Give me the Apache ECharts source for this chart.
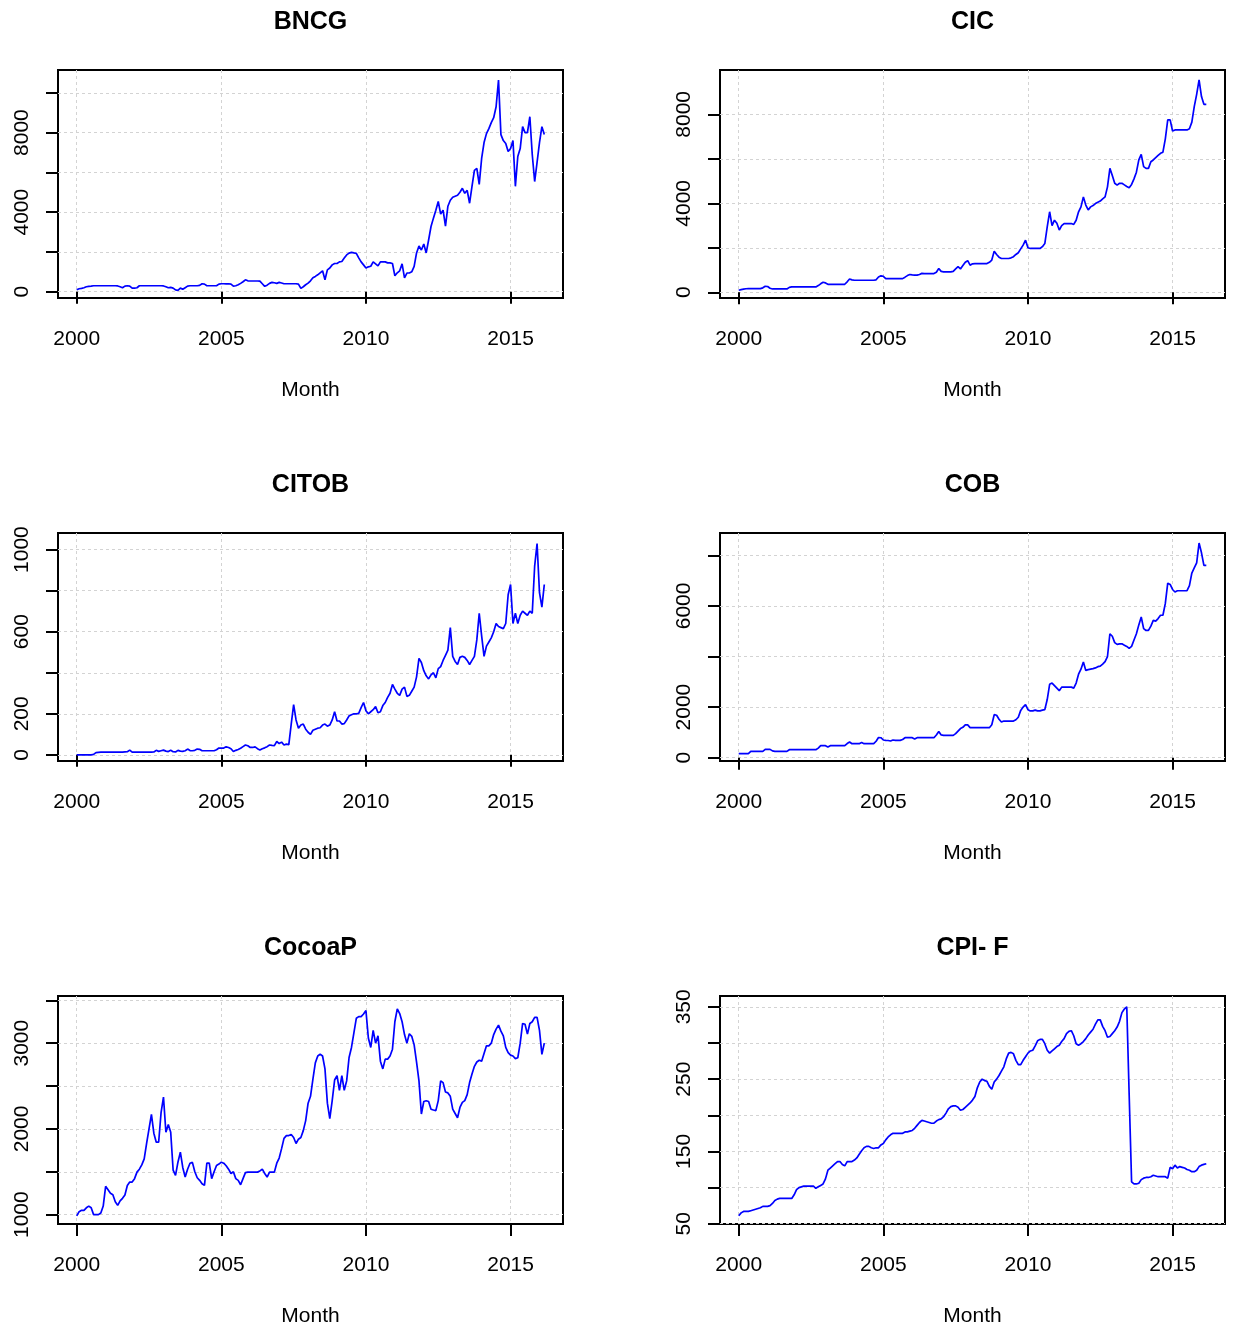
<!DOCTYPE html>
<html><head><meta charset="utf-8">
<script src="https://cdn.jsdelivr.net/npm/echarts@6/dist/echarts.min.js"></script>
<style>html,body{margin:0;padding:0;background:#fff}#c{width:1238px;height:1329px}</style>
</head><body><div id="c"></div>
<script>
// ---- data (monthly, Jan 2000 .. Mar 2016) ----
const START_YEAR = 2000;
const titles = ['BNCG', 'CIC', 'CITOB', 'COB', 'CocoaP', 'CPI- F'];
const xTicks = [2000, 2005, 2010, 2015];

const BNCG = [
  100,150,170,200,250,270,280,300,300,300,300,300,
  300,300,300,300,300,290,250,200,280,300,280,180,
  180,200,300,300,300,300,300,300,300,300,300,300,
  290,250,200,220,180,90,70,180,120,200,280,300,
  300,300,300,320,400,380,300,300,300,300,300,380,
  400,400,390,400,380,280,300,350,420,500,600,550,
  540,540,540,540,530,400,270,330,420,470,450,420,
  470,440,400,400,400,400,400,400,380,170,250,350,
  430,550,700,770,850,950,1050,600,1100,1190,1350,1420,
  1420,1500,1520,1690,1850,1940,1975,1950,1930,1700,1500,1350,
  1190,1250,1280,1500,1400,1300,1500,1500,1500,1450,1450,1420,
  800,950,1050,1400,700,940,940,1000,1270,1950,2300,2100,
  2400,1950,2600,3280,3700,4100,4540,3900,4100,3300,4300,4600,
  4750,4800,4850,5000,5200,4950,5100,4450,5300,6100,6200,5400,
  6700,7500,7950,8200,8500,8750,9300,10640,7900,7600,7450,7050,
  7200,7600,5300,6800,7200,8300,8000,8000,8800,6900,5540,6500,
  7500,8300,7900
];
const CIC = [
  90,120,140,160,165,165,165,165,165,165,200,270,
  260,180,150,150,150,150,150,150,150,220,240,240,
  240,240,240,240,240,240,240,240,240,300,380,450,
  420,360,360,360,360,360,360,360,360,470,600,560,
  540,540,540,540,540,540,540,540,540,560,690,740,
  720,615,615,615,615,615,615,615,615,680,750,800,
  780,770,770,800,850,840,840,840,840,840,900,1070,
  940,920,920,920,920,940,1050,1150,1050,1200,1350,1420,
  1220,1280,1290,1290,1290,1290,1290,1290,1350,1450,1850,1700,
  1580,1520,1520,1520,1520,1550,1600,1700,1780,1950,2120,2340,
  2000,1970,1970,1970,1970,1970,2050,2190,2940,3620,3000,3240,
  3100,2800,3000,3090,3090,3090,3090,3050,3240,3620,3840,4290,
  3920,3700,3840,3900,3990,4050,4100,4200,4290,4740,5570,5250,
  4900,4820,4900,4900,4830,4760,4700,4850,5100,5400,5950,6200,
  5650,5570,5570,5870,5950,6050,6150,6250,6300,6900,7750,7750,
  7250,7300,7300,7300,7300,7300,7300,7350,7650,8350,8900,9550,
  8800,8450,8450
];
const CITOB = [
  0,0,0,0,0,0,0,2,11,12,13,13,
  13,13,13,13,13,13,13,13,14,15,23,13,
  13,13,13,13,13,13,13,13,14,22,17,20,
  23,18,16,22,15,14,22,18,17,20,28,21,
  20,22,28,27,20,20,20,20,20,20,25,33,
  33,33,39,36,30,16,22,26,32,40,48,44,
  36,36,39,30,24,30,34,40,48,46,45,65,
  55,62,48,52,50,150,245,170,130,145,150,125,
  110,100,120,125,130,132,145,150,140,145,170,210,
  165,165,150,152,170,190,195,200,200,202,230,255,
  215,200,210,220,235,205,210,240,255,280,300,343,
  320,300,290,320,330,285,290,310,330,380,470,450,
  410,385,370,390,400,375,420,430,460,485,510,620,
  480,455,440,475,480,475,460,440,460,480,560,690,
  580,480,530,550,570,600,640,625,620,615,640,780,
  830,640,690,640,680,700,690,680,700,690,920,1030,
  790,720,830
];
const COB = [
  160,160,160,160,160,250,250,250,250,250,250,330,
  330,330,270,250,250,250,250,250,250,316,316,316,
  316,316,316,316,316,316,316,316,316,380,474,474,
  474,420,474,474,474,474,474,474,474,560,620,553,
  553,553,553,600,553,553,553,553,553,650,800,790,
  700,685,680,660,700,685,685,685,720,790,790,790,
  790,740,790,790,790,790,790,790,790,790,900,1040,
  900,883,883,883,883,883,950,1050,1150,1200,1300,1300,
  1190,1186,1186,1186,1186,1186,1186,1186,1186,1300,1700,1680,
  1520,1410,1450,1450,1450,1450,1450,1500,1600,1870,2000,2100,
  1900,1850,1850,1880,1850,1850,1880,1900,2300,2900,2950,2850,
  2750,2650,2790,2790,2790,2790,2790,2750,2950,3300,3500,3780,
  3450,3480,3500,3520,3550,3600,3620,3700,3800,4000,4900,4800,
  4550,4480,4500,4500,4450,4400,4320,4400,4650,4900,5250,5560,
  5100,5030,5030,5200,5430,5400,5500,5630,5630,6100,6900,6850,
  6650,6550,6600,6600,6600,6600,6600,6800,7300,7500,7700,8485,
  8100,7600,7600
];
const CocoaP = [
  985,1035,1050,1050,1080,1100,1080,1000,1000,1000,1020,1100,
  1330,1290,1250,1233,1150,1108,1160,1190,1230,1340,1380,1380,
  1420,1496,1530,1580,1650,1830,2000,2170,1950,1845,1845,2190,
  2370,1961,2050,1960,1520,1457,1612,1729,1550,1438,1530,1600,
  1610,1500,1430,1400,1360,1341,1600,1600,1420,1500,1574,1590,
  1612,1600,1570,1530,1480,1500,1420,1400,1349,1420,1490,1496,
  1496,1496,1496,1496,1510,1530,1480,1438,1496,1496,1496,1600,
  1660,1770,1890,1922,1922,1935,1900,1830,1880,1900,1980,2097,
  2300,2380,2581,2770,2850,2870,2850,2700,2300,2120,2330,2570,
  2620,2450,2620,2450,2560,2833,2950,3120,3290,3310,3310,3340,
  3380,3060,2950,3150,3000,3085,2790,2700,2814,2814,2850,2930,
  3250,3400,3345,3250,3100,3000,3110,3080,2980,2780,2560,2174,
  2320,2329,2320,2230,2220,2213,2330,2560,2540,2430,2420,2380,
  2230,2180,2130,2250,2310,2330,2400,2540,2640,2730,2780,2800,
  2790,2880,2969,2969,3000,3100,3163,3210,3140,3085,2950,2890,
  2860,2850,2820,2830,3000,3230,3220,3105,3230,3250,3300,3300,
  3150,2870,3000
];
const CPI_F = [
  61,65,67,67,67,68,69,70,71,72,74,74,
  74,75,78,82,84,85,85,85,85,85,85,90,
  97,100,101,102,102,102,102,102,99,101,103,105,
  112,124,127,130,133,136,136,132,130,136,136,136,
  138,141,146,151,155,157,157,155,154,155,155,159,
  161,166,170,173,175,175,175,175,175,177,177,178,
  179,182,186,190,193,192,191,190,189,189,192,194,
  195,198,203,209,212,213,213,211,207,208,211,214,
  217,221,226,238,246,250,248,247,240,236,246,250,
  255,261,267,278,286,287,285,276,270,270,276,281,
  286,289,290,296,303,305,305,299,290,286,289,292,
  295,297,302,306,313,316,317,310,299,297,299,302,
  306,311,315,319,326,332,332,323,317,308,309,313,
  317,322,330,342,347,350,228,108,105,105,106,111,
  113,114,114,115,117,116,115,115,115,115,113,128,
  126,131,127,129,128,127,125,124,122,122,124,129,
  131,132,133
];

const yTicks = [
  [0, 2000, 4000, 6000, 8000, 10000],
  [0, 2000, 4000, 6000, 8000],
  [0, 200, 400, 600, 800, 1000],
  [0, 2000, 4000, 6000, 8000],
  [1000, 1500, 2000, 2500, 3000, 3500],
  [50, 100, 150, 200, 250, 300, 350]
];
const yLabels = [
  [0, 4000, 8000],
  [0, 4000, 8000],
  [0, 200, 600, 1000],
  [0, 2000, 6000],
  [1000, 2000, 3000],
  [50, 150, 250, 350]
];
const seriesValues = [BNCG, CIC, CITOB, COB, CocoaP, CPI_F];

// ---- layout ----
const yRange = [[-316, 11149], [-257, 9994], [-30, 1081], [-130, 8882], [891, 3550], [49.6, 365]];
const xRange = [1999.353, 2016.813];
const colLeft = [58, 720], rowTop = [70, 533, 996], gw = 505, gh = 228;
const FONT = '"Liberation Sans", Arial, Helvetica, sans-serif';

const grids = [], xAxes = [], yAxes = [], series = [], titleOpts = [];
const gridLine = { show: true, lineStyle: { color: '#d3d3d3', width: 1, type: [3, 3] } };
const tickStyle = { color: '#000', width: 2 };

seriesValues.forEach((vals, i) => {
  const col = i % 2, row = Math.floor(i / 2);
  const left = colLeft[col], top = rowTop[row];
  grids.push({ left, top, width: gw, height: gh, show: true, borderColor: '#000', borderWidth: 2, backgroundColor: 'transparent', containLabel: false });
  titleOpts.push({
    text: titles[i], left: left + gw / 2, top: top - 60, textAlign: 'center', padding: 0,
    textStyle: { fontSize: 25, fontWeight: 'bold', color: '#000', fontFamily: FONT }
  });
  xAxes.push({
    gridIndex: i, type: 'value', min: xRange[0], max: xRange[1],
    axisLine: { show: false },
    axisTick: { show: true, length: 12, lineStyle: tickStyle, customValues: xTicks },
    axisLabel: { customValues: xTicks, fontSize: 21, color: '#000', margin: 31, fontFamily: FONT, formatter: v => String(v) },
    splitLine: gridLine,
    name: 'Month', nameLocation: 'middle', nameGap: 82,
    nameTextStyle: { fontSize: 21, color: '#000', fontFamily: FONT }
  });
  yAxes.push({
    gridIndex: i, type: 'value', min: yRange[i][0], max: yRange[i][1],
    axisLine: { show: false },
    axisTick: { show: true, length: 12, lineStyle: tickStyle, customValues: yTicks[i] },
    axisLabel: { customValues: yLabels[i], rotate: 90, fontSize: 21, color: '#000', margin: 25, fontFamily: FONT, formatter: v => String(v) },
    splitLine: gridLine
  });
  series.push({
    type: 'line', xAxisIndex: i, yAxisIndex: i, showSymbol: false, symbol: 'none',
    lineStyle: { color: '#0000ff', width: 1.7 }, itemStyle: { color: '#0000ff' },
    data: vals.map((v, k) => [START_YEAR + k / 12, v]), clip: true, z: 3
  });
});

const chart = echarts.init(document.getElementById('c'), null, { renderer: 'canvas' });
chart.setOption({ animation: false, backgroundColor: '#fff', title: titleOpts, grid: grids, xAxis: xAxes, yAxis: yAxes, series });
</script></body></html>
